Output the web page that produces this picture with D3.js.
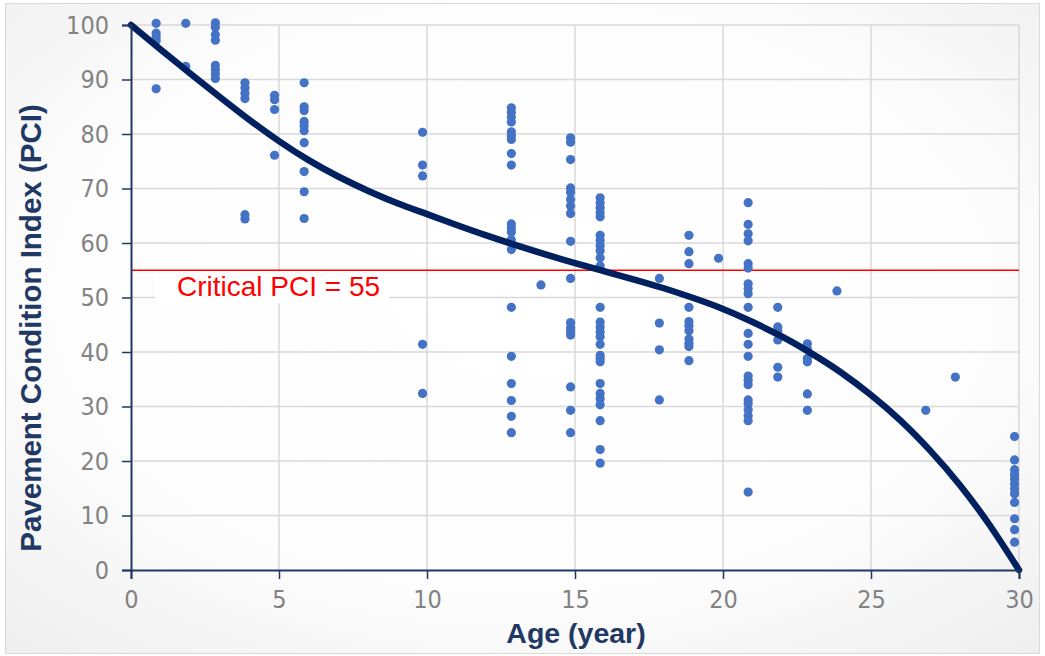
<!DOCTYPE html>
<html>
<head>
<meta charset="utf-8">
<script src="https://cdn.jsdelivr.net/npm/d3@7"></script>
<style>
  html, body { margin: 0; padding: 0; background: #ffffff; }
  svg { display: block; }
</style>
</head>
<body>
<svg id="chart" width="1045" height="656"></svg>
<script>
// ---------- data ----------
const xTicks = [0, 5, 10, 15, 20, 25, 30];
const yTicks = [0, 10, 20, 30, 40, 50, 60, 70, 80, 90, 100];
const criticalPCI = 55;
const criticalLabel = "Critical PCI = 55";
const xTitle = "Age (year)";
const yTitle = "Pavement Condition Index (PCI)";

// observed ages (years) and PCI values observed at each age
const ages = [0.85, 1.85, 2.85, 3.85, 4.85, 5.85, 9.85, 12.85, 13.85, 14.85, 15.85,
              17.85, 18.85, 19.85, 20.85, 21.85, 22.85, 23.85, 26.85, 27.85, 29.85];
const pciAt0_85  = [100.3, 98.5, 97.8, 97.1, 88.3];
const pciAt1_85  = [100.3, 92.4];
const pciAt2_85  = [100.4, 99.6, 98.2, 97.2, 92.6, 91.8, 91.0, 90.2];
const pciAt3_85  = [89.4, 88.5, 87.5, 86.5, 65.2, 64.4];
const pciAt4_85  = [87.1, 86.3, 84.5, 76.1];
const pciAt5_85  = [89.4, 85.0, 84.3, 82.3, 81.5, 80.6, 78.4, 73.1, 69.4, 64.5];
const pciAt9_85  = [80.3, 74.3, 72.3, 41.4, 32.4];
const pciAt12_85 = [84.8, 84.0, 83.1, 82.2, 80.4, 79.7, 79.0, 76.4, 74.3, 63.5, 62.8, 62.0, 60.6, 58.8, 48.2, 39.2, 34.2, 31.1, 28.2, 25.2];
const pciAt13_85 = [52.3];
const pciAt14_85 = [79.3, 78.5, 75.3, 70.1, 69.3, 68.0, 66.8, 65.4, 60.3, 53.5, 45.4, 44.5, 43.8, 43.1, 33.6, 29.3, 25.2];
const pciAt15_85 = [68.3, 67.4, 66.5, 65.6, 64.8, 61.4, 60.5, 59.5, 58.6, 57.3, 55.8, 48.2, 45.5, 44.6, 43.7, 42.8, 41.4, 39.4, 38.8, 38.2, 34.2, 32.4, 31.4, 30.3, 27.4, 22.1, 19.6];
const pciAt17_85 = [53.5, 45.3, 40.4, 31.2];
const pciAt18_85 = [61.4, 58.4, 56.2, 48.2, 45.6, 44.8, 43.9, 42.4, 41.6, 41.0, 38.4];
const pciAt19_85 = [57.2];
const pciAt20_85 = [67.4, 63.4, 61.7, 60.4, 56.2, 55.4, 52.5, 51.6, 50.7, 48.2, 43.4, 41.4, 39.2, 35.6, 34.8, 34.0, 31.2, 30.5, 29.4, 28.3, 27.4, 14.3];
const pciAt21_85 = [48.2, 44.6, 43.8, 42.2, 37.2, 35.4];
const pciAt22_85 = [41.5, 40.6, 38.8, 38.2, 32.3, 29.3];
const pciAt23_85 = [51.2];
const pciAt26_85 = [29.3];
const pciAt27_85 = [35.4];
const pciAt29_85 = [24.5, 20.2, 18.4, 17.5, 16.7, 15.8, 14.9, 14.0, 12.4, 9.4, 7.4, 5.1];
const pciByAge = [pciAt0_85, pciAt1_85, pciAt2_85, pciAt3_85, pciAt4_85, pciAt5_85, pciAt9_85,
                  pciAt12_85, pciAt13_85, pciAt14_85, pciAt15_85, pciAt17_85, pciAt18_85,
                  pciAt19_85, pciAt20_85, pciAt21_85, pciAt22_85, pciAt23_85, pciAt26_85,
                  pciAt27_85, pciAt29_85];

// fitted deterioration curve
const curveAge = [0, 1, 2, 3, 4, 5, 6, 7, 8, 9, 10, 11, 12, 13, 14, 15, 16, 17, 18, 19, 20, 21, 22, 23, 24, 25, 26, 27, 28, 29, 30];
const curvePCI = [100, 95.5, 91.1, 86.8, 82.6, 78.7, 75.2, 72.2, 69.6, 67.3, 65.3, 63.3, 61.4, 59.6, 57.9, 56.3, 54.8, 53.3, 51.7, 49.9, 47.9, 45.5, 42.8, 39.7, 36.2, 32.1, 27.4, 21.9, 15.6, 8.3, 0];

// ---------- drawing ----------
const svg = d3.select("#chart");
const W = 1045, H = 656;
const plot = { left: 131, right: 1019, top: 25, bottom: 570 };
const tickFont = "'Liberation Sans Narrow', 'DejaVu Sans Condensed', 'Liberation Sans', sans-serif";
const textFont = "'Liberation Sans', Arial, sans-serif";

const defs = svg.append("defs");
const grad = defs.append("radialGradient").attr("id", "bg")
  .attr("cx", "50%").attr("cy", "45%").attr("r", "75%");
grad.append("stop").attr("offset", "0%").attr("stop-color", "#ffffff");
grad.append("stop").attr("offset", "60%").attr("stop-color", "#fdfdfd");
grad.append("stop").attr("offset", "100%").attr("stop-color", "#eeeeee");

svg.append("rect").attr("x", 0).attr("y", 0).attr("width", W).attr("height", H).attr("fill", "#ffffff");
svg.append("rect").attr("x", 5.5).attr("y", 3.5).attr("width", 1034).attr("height", 650)
  .attr("fill", "url(#bg)").attr("stroke", "#d9d9d9").attr("stroke-width", 1);

const x = d3.scaleLinear().domain([0, 30]).range([plot.left, plot.right]);
const y = d3.scaleLinear().domain([0, 100]).range([plot.bottom, plot.top]);

// gridlines
const grid = svg.append("g");
grid.selectAll("line.h").data(yTicks.filter(d => d > 0)).join("line")
  .attr("x1", plot.left).attr("x2", plot.right)
  .attr("y1", d => y(d)).attr("y2", d => y(d))
  .attr("stroke", "#d9d9d9").attr("stroke-width", 1.5);
grid.selectAll("line.v").data(xTicks.filter(d => d > 0)).join("line")
  .attr("y1", plot.top).attr("y2", plot.bottom)
  .attr("x1", d => x(d)).attr("x2", d => x(d))
  .attr("stroke", "#d9d9d9").attr("stroke-width", 1.5);

// critical line
svg.append("line")
  .attr("x1", x(0)).attr("x2", x(30))
  .attr("y1", y(criticalPCI)).attr("y2", y(criticalPCI))
  .attr("stroke", "#ff0000").attr("stroke-width", 1.5);

// label box + text
const labelG = svg.append("g");
labelG.append("rect").attr("x", 155).attr("y", y(criticalPCI) + 2).attr("width", 234).attr("height", 31)
  .attr("fill", "#ffffff");
labelG.append("text").attr("x", 177).attr("y", y(criticalPCI) + 26)
  .attr("font-family", textFont).attr("font-size", 28)
  .attr("fill", "#ff0000").text(criticalLabel);

// scatter points
const pts = [];
ages.forEach((a, i) => pciByAge[i].forEach(v => pts.push({ age: a, pci: v })));
svg.append("g").selectAll("circle").data(pts).join("circle")
  .attr("cx", d => x(d.age)).attr("cy", d => y(d.pci)).attr("r", 4.6)
  .attr("fill", "#4472c4");

// curve
const line = d3.line().x((d, i) => x(curveAge[i])).y(d => y(d)).curve(d3.curveNatural);
svg.append("path").datum(curvePCI).attr("d", line)
  .attr("fill", "none").attr("stroke", "#002060").attr("stroke-width", 6.5)
  .attr("stroke-linecap", "round");

// axes
const axisColor = "#1f3864";
const xAxis = svg.append("g").attr("transform", `translate(0,${plot.bottom})`)
  .call(d3.axisBottom(x).tickValues(xTicks).tickSize(9).tickPadding(14).tickFormat(d3.format("d")));
const yAxis = svg.append("g").attr("transform", `translate(${plot.left},0)`)
  .call(d3.axisLeft(y).tickValues(yTicks).tickSize(9).tickPadding(13).tickFormat(d3.format("d")));
[xAxis, yAxis].forEach(g => {
  g.select(".domain").attr("stroke", axisColor).attr("stroke-width", 2);
  g.selectAll(".tick line").attr("stroke", axisColor).attr("stroke-width", 1.5);
  g.selectAll(".tick text").attr("fill", "#838383")
    .attr("font-family", tickFont).attr("font-size", 25);
});
xAxis.selectAll(".tick text").attr("dy", "0.6em");

// axis titles
svg.append("text").attr("x", 576).attr("y", 643)
  .attr("text-anchor", "middle").attr("font-family", textFont)
  .attr("font-weight", "bold").attr("font-size", 28.5).attr("fill", axisColor).text(xTitle);
svg.append("text").attr("transform", `translate(41,328) rotate(-90)`)
  .attr("text-anchor", "middle").attr("font-family", textFont)
  .attr("font-weight", "bold").attr("font-size", 29.5).attr("fill", axisColor).text(yTitle);
</script>
</body>
</html>
